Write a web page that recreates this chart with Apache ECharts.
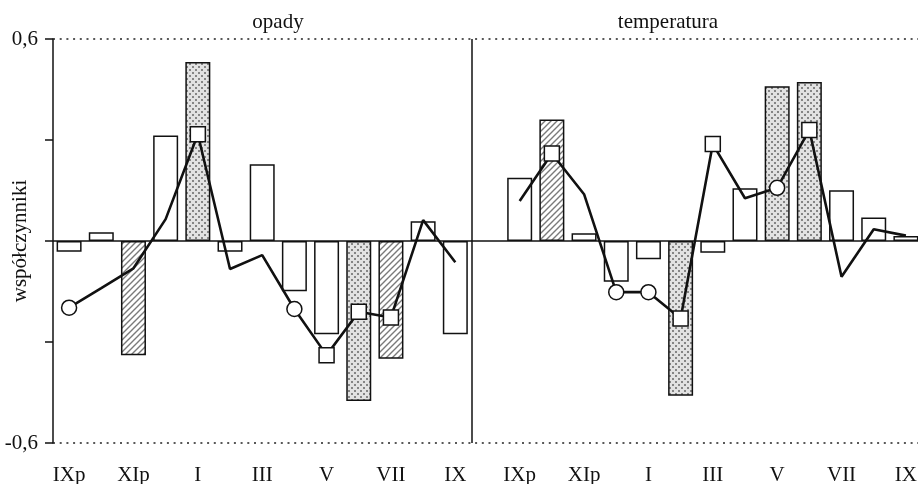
<!DOCTYPE html>
<html>
<head>
<meta charset="utf-8">
<script src="https://cdn.jsdelivr.net/npm/echarts@6/dist/echarts.min.js"></script>
<style>
  html, body { margin: 0; padding: 0; background: #fff; }
  #chart { width: 918px; height: 484px; }
</style>
</head>
<body>
<div id="chart"></div>
<script>
// miesiące (roku hydrologicznego)
const months = ['IXp', 'Xp', 'XIp', 'XIIp', 'I', 'II', 'III', 'IV', 'V', 'VI', 'VII', 'VIII', 'IX']

// opady: słupki, rodzaj słupka (w - pusty, h - kreskowany, d - kropkowany)
const opadyBars = [-0.032, 0.026, -0.339, 0.313, 0.532, -0.032, 0.228, -0.149, -0.277, -0.475, -0.35, 0.059, -0.277]
const opadyBarType = ['w', 'w', 'h', 'w', 'd', 'w', 'w', 'w', 'w', 'd', 'h', 'w', 'w']
// opady: linia i znaczniki (o - kółko, s - kwadrat, - brak)
const opadyLine = [-0.198, -0.14, -0.081, 0.065, 0.317, -0.083, -0.042, -0.202, -0.339, -0.21, -0.227, 0.062, -0.063]
const opadyMark = ['o', '-', '-', '-', 's', '-', '-', 'o', 's', 's', 's', '-', '-']

// temperatura
const tempBars = [0.188, 0.361, 0.023, -0.121, -0.054, -0.46, -0.035, 0.157, 0.46, 0.472, 0.151, 0.07, 0.015]
const tempBarType = ['w', 'h', 'w', 'w', 'w', 'd', 'w', 'w', 'd', 'd', 'w', 'w', 'w']
const tempLine = [0.119, 0.26, 0.139, -0.152, -0.152, -0.23, 0.288, 0.127, 0.158, 0.33, -0.106, 0.035, 0.016]
const tempMark = ['-', 's', '-', 'o', 'o', 's', 's', '-', 'o', 's', '-', '-', '-']

const yTicks = [-0.6, 0.6]

const FONT = 'Liberation Serif'
const FONT_SIZE = 21

// wzory wypełnienia
function hatchPattern() {
  const c = document.createElement('canvas')
  c.width = 6
  c.height = 6
  const ctx = c.getContext('2d')
  ctx.fillStyle = '#fff'
  ctx.fillRect(0, 0, 6, 6)
  ctx.strokeStyle = '#7a7a7a'
  ctx.lineWidth = 1.4
  ctx.beginPath()
  ctx.moveTo(-1, 7); ctx.lineTo(7, -1)
  ctx.moveTo(-4, 4); ctx.lineTo(4, -4)
  ctx.moveTo(2, 10); ctx.lineTo(10, 2)
  ctx.stroke()
  return c
}
function dotPattern() {
  const c = document.createElement('canvas')
  c.width = 6
  c.height = 6
  const ctx = c.getContext('2d')
  ctx.fillStyle = '#e2e2e2'
  ctx.fillRect(0, 0, 6, 6)
  ctx.fillStyle = '#858585'
  ctx.fillRect(0, 0, 2, 2)
  ctx.fillRect(3, 3, 2, 2)
  return c
}
const fills = {
  w: '#fff',
  h: { image: hatchPattern(), repeat: 'repeat' },
  d: { image: dotPattern(), repeat: 'repeat' }
}
const symbols = { o: 'circle', s: 'rect', '-': 'none' }

// 13 + przerwa + 13 kategorii
const categories = months.concat([''], months)
const barValues = opadyBars.concat([null], tempBars)
const barTypes = opadyBarType.concat(['w'], tempBarType)
const lineValues = opadyLine.concat([null], tempLine)
const lineMarks = opadyMark.concat(['-'], tempMark)

const barData = barValues.map((v, i) => ({
  value: v,
  itemStyle: { color: fills[barTypes[i]] }
}))
const lineData = lineValues.map((v, i) => ({
  value: v,
  symbol: symbols[lineMarks[i]]
}))

const chart = echarts.init(document.getElementById('chart'))
chart.setOption({
  animation: false,
  backgroundColor: '#fff',
  textStyle: { fontFamily: FONT },
  grid: { left: 53, right: -4, top: 39, bottom: 41, containLabel: false, outerBoundsMode: 'none' },
  graphic: [
    { type: 'text', x: 278, y: 22, style: { text: 'opady', fontFamily: FONT, fontSize: FONT_SIZE, fill: '#111', align: 'center', verticalAlign: 'middle' } },
    { type: 'text', x: 668, y: 22, style: { text: 'temperatura', fontFamily: FONT, fontSize: FONT_SIZE, fill: '#111', align: 'center', verticalAlign: 'middle' } }
  ],
  xAxis: [
    {
      type: 'category',
      data: categories,
      axisLine: { show: false, onZero: false },
      axisTick: { show: false },
      axisLabel: { interval: 1, margin: 22, fontFamily: FONT, fontSize: FONT_SIZE, color: '#111' }
    },
    { type: 'value', min: 0, max: categories.length, show: false }
  ],
  yAxis: {
    type: 'value',
    min: -0.6,
    max: 0.6,
    interval: 0.3,
    name: 'współczynniki',
    nameLocation: 'middle',
    nameGap: 22,
    nameMoveOverlap: false,
    nameTextStyle: { fontFamily: FONT, fontSize: FONT_SIZE, color: '#111' },
    axisLine: { show: true, lineStyle: { color: '#111', width: 1.5 } },
    axisTick: { show: true, length: 8, lineStyle: { color: '#111', width: 1.5 } },
    splitLine: { show: false },
    axisLabel: {
      margin: 15,
      fontFamily: FONT,
      fontSize: FONT_SIZE,
      color: '#111',
      formatter: v => yTicks.some(t => Math.abs(t - v) < 1e-6) ? v.toFixed(1).replace('.', ',') : ''
    }
  },
  series: [
    {
      type: 'bar',
      data: barData,
      barWidth: 25,
      itemStyle: { borderColor: '#111', borderWidth: 1.5 },
      markLine: {
        silent: true,
        symbol: 'none',
        label: { show: false },
        data: [
          { yAxis: 0.6, lineStyle: { color: '#222', width: 1.6, type: [2, 4.7] } },
          { yAxis: -0.6, lineStyle: { color: '#222', width: 1.6, type: [2, 4.7] } },
          { yAxis: 0, lineStyle: { color: '#111', width: 1.5, type: 'solid' } }
        ]
      }
    },
    {
      type: 'line',
      data: lineData,
      connectNulls: false,
      showAllSymbol: true,
      symbolSize: 15,
      z: 5,
      lineStyle: { color: '#111', width: 2.6 },
      itemStyle: { color: '#fff', borderColor: '#111', borderWidth: 1.5 }
    },
    {
      // pionowa linia oddzielająca panele
      type: 'line',
      xAxisIndex: 1,
      data: [],
      markLine: {
        silent: true,
        symbol: 'none',
        label: { show: false },
        lineStyle: { color: '#111', width: 1.5, type: 'solid' },
        data: [{ xAxis: opadyBars.length }]
      }
    }
  ]
})
</script>
</body>
</html>
